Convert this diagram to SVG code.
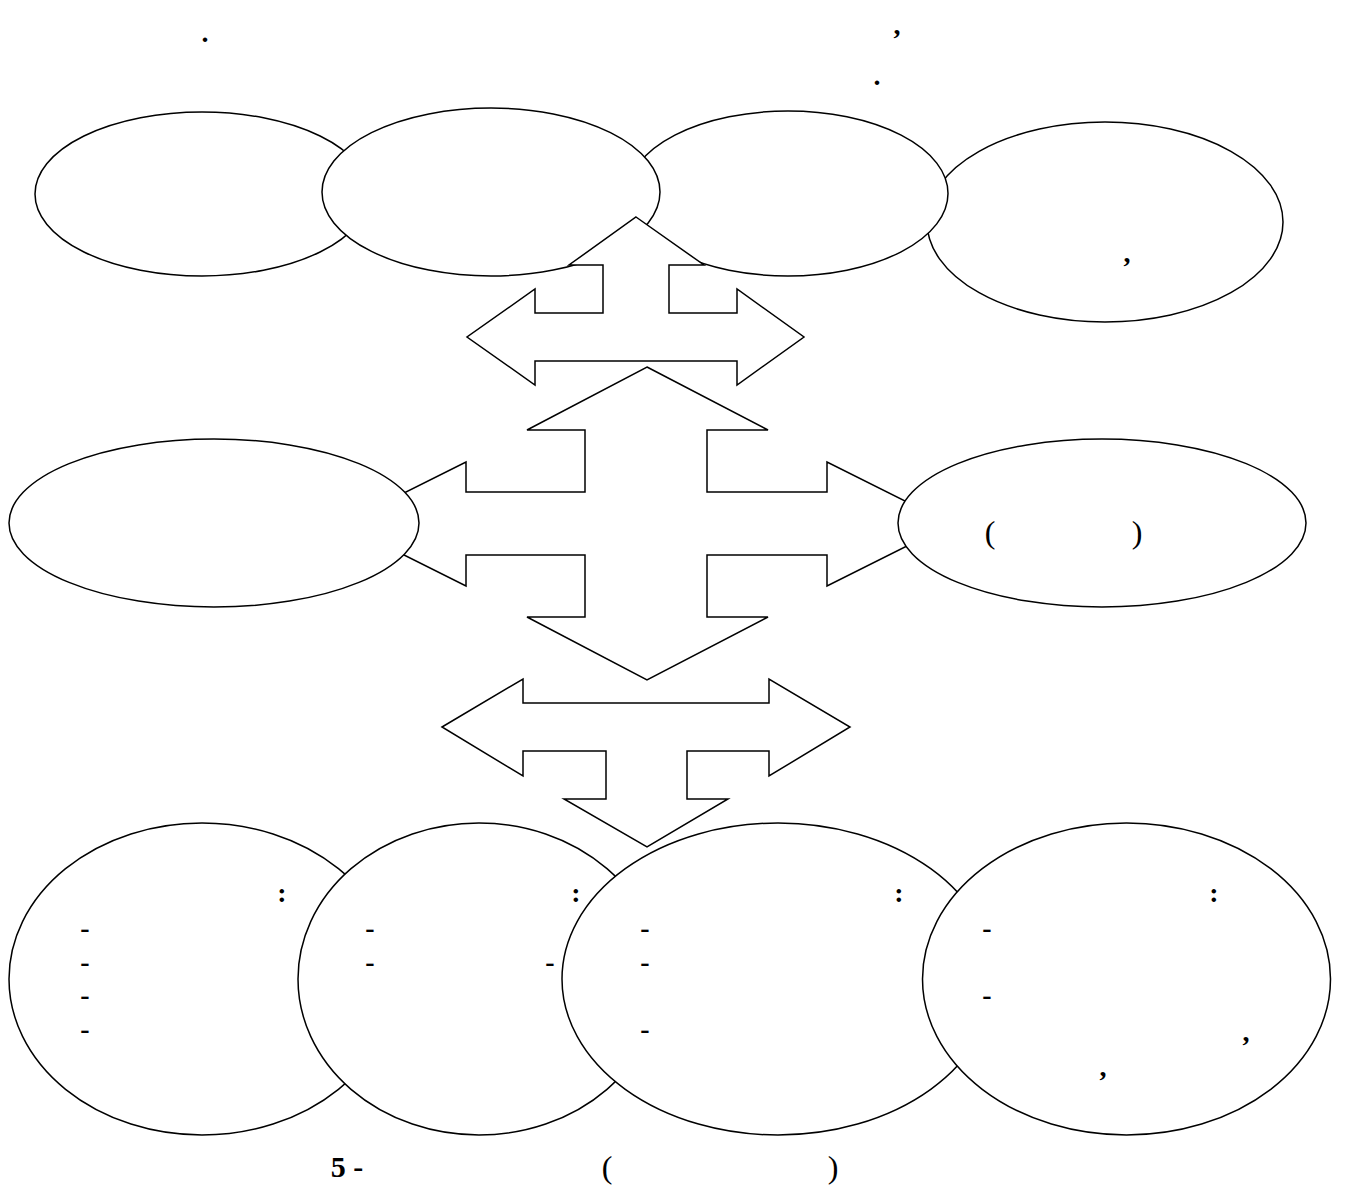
<svg xmlns="http://www.w3.org/2000/svg" width="1345" height="1186" viewBox="0 0 1345 1186">
<style>
.n{fill:#fff;stroke:#000;stroke-width:1.5}
.a{fill:#fff;stroke:#000;stroke-width:1.5;stroke-linejoin:miter}
.t{font-family:"Liberation Serif","Times New Roman",serif;font-weight:bold;font-size:28px;fill:#000;text-anchor:middle}
.c{font-size:30px}
.p{font-weight:normal;font-size:32px}
</style>
<rect width="1345" height="1186" fill="#fff"/>
<g id="header">
<text class="t" x="205" y="42">.</text>
<text class="t" x="897" y="34">,</text>
<text class="t" x="877" y="85">.</text>
</g>
<g id="top1"><ellipse class="n" cx="202" cy="194" rx="167" ry="82"/></g>
<g id="top4"><ellipse class="n" cx="1105" cy="222" rx="178" ry="100"/><text class="t" x="1127" y="262">,</text></g>
<g id="top3"><ellipse class="n" cx="788" cy="193.5" rx="160" ry="82.5"/></g>
<g id="top2"><ellipse class="n" cx="491" cy="192" rx="169" ry="84"/></g>
<g id="connectors">
<polygon id="arrow-top" class="a" points="636,217 704,265 669,265 669,313 737,313 737,289 804,337 737,385 737,361 535,361 535,385 467,337 535,289 535,313 603,313 603,265 569,265"/>
<polygon id="arrow-center" class="a" points="647,367 768,430 707,430 707,492 827,492 827,462 951,524 827,586 827,555 707,555 707,617 768,617 647,680 527,617 585,617 585,555 466,555 466,586 342,524 466,462 466,492 585,492 585,430 527,430"/>
<polygon id="arrow-bottom" class="a" points="442,727 523,679 523,703 769,703 769,679 850,727 769,776 769,751 687,751 687,799 728,799 647,847 564,799 606,799 606,751 523,751 523,776"/>
</g>
<g id="mid-left"><ellipse class="n" cx="214" cy="523" rx="205" ry="84"/></g>
<g id="mid-right"><ellipse class="n" cx="1102" cy="523" rx="204" ry="84"/>
<text class="t p" x="990" y="543">(</text><text class="t p" x="1137" y="543">)</text></g>
<g id="bot1"><ellipse class="n" cx="202" cy="979" rx="193" ry="156"/>
<text class="t" x="282" y="902">:</text>
<text class="t" x="85" y="937">-</text>
<text class="t" x="85" y="971">-</text>
<text class="t" x="85" y="1004">-</text>
<text class="t" x="85" y="1038">-</text>
</g>
<g id="bot2"><ellipse class="n" cx="479" cy="979" rx="181" ry="156"/>
<text class="t" x="576" y="902">:</text>
<text class="t" x="370" y="937">-</text>
<text class="t" x="370" y="971">-</text>
<text class="t" x="550" y="971">-</text>
</g>
<g id="bot3"><ellipse class="n" cx="778" cy="979" rx="216" ry="156"/>
<text class="t" x="899" y="902">:</text>
<text class="t" x="645" y="937">-</text>
<text class="t" x="645" y="971">-</text>
<text class="t" x="645" y="1038">-</text>
</g>
<g id="bot4"><ellipse class="n" cx="1126.5" cy="979" rx="204" ry="156"/>
<text class="t" x="1214" y="902">:</text>
<text class="t" x="987" y="937">-</text>
<text class="t" x="987" y="1004">-</text>
<text class="t" x="1246" y="1041">,</text>
<text class="t" x="1103" y="1076">,</text>
</g>
<g id="caption">
<text class="t c" x="347" y="1177">5 -</text>
<text class="t p" x="607" y="1178">(</text>
<text class="t p" x="833" y="1178">)</text>
</g>
</svg>
